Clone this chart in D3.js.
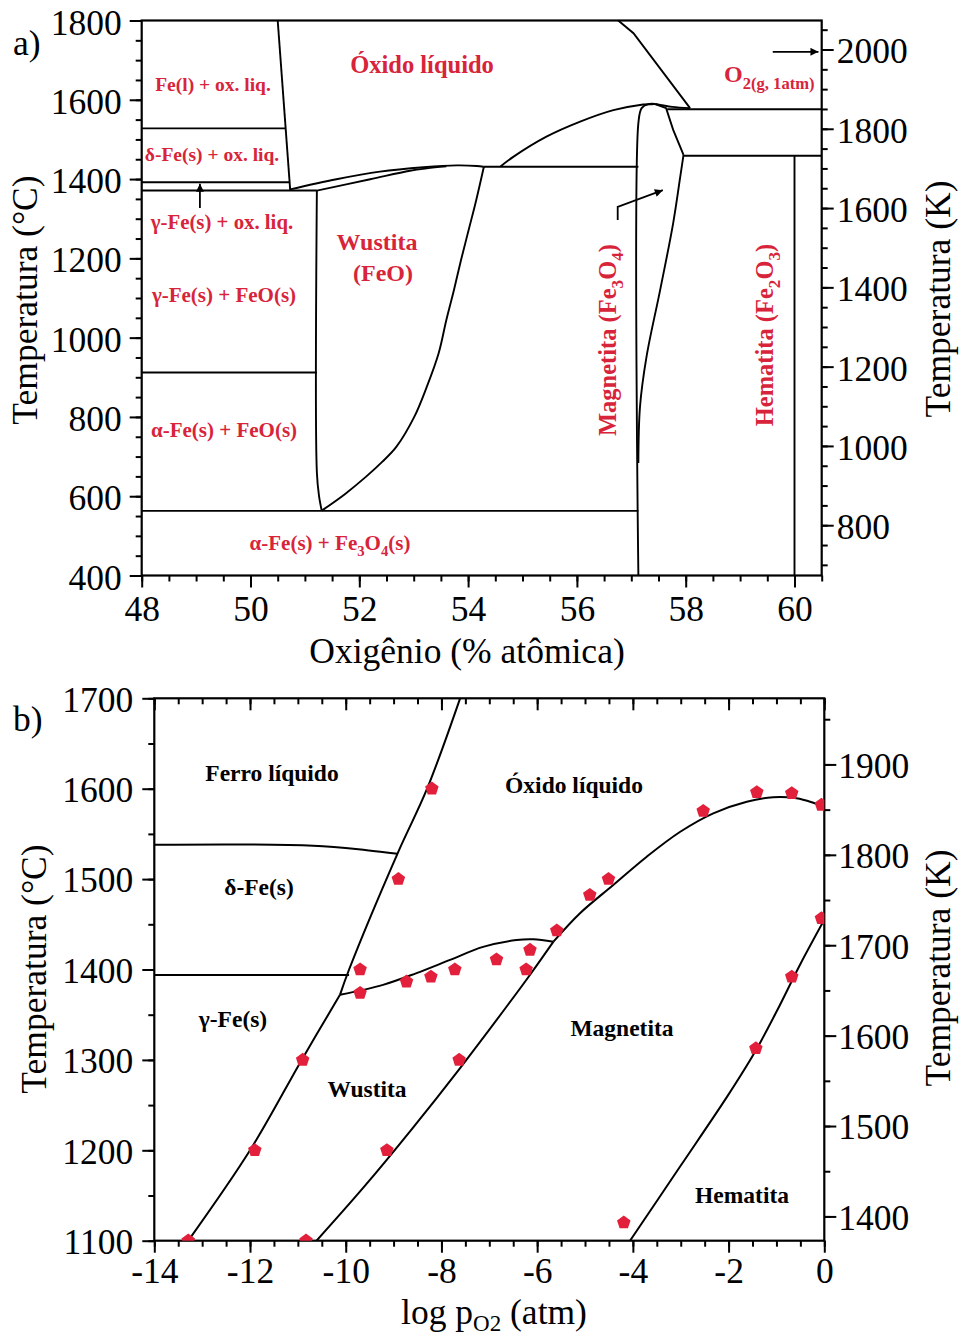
<!DOCTYPE html>
<html>
<head>
<meta charset="utf-8">
<script src="https://cdn.jsdelivr.net/npm/d3@7"></script>
<style>
  body { margin: 0; background: #fff; }
  svg { display: block; }
</style>
</head>
<body>
<svg id="chart" width="962" height="1336"></svg>
<script>
// ---------- Panel a: Fe–O phase diagram (composition vs temperature) ----------
const oxygenTicksA = [48, 50, 52, 54, 56, 58, 60];
const celsiusTicksA = [400, 600, 800, 1000, 1200, 1400, 1600, 1800];
const kelvinTicksA = [800, 1000, 1200, 1400, 1600, 1800, 2000];

// phase boundaries, [at.% O, °C]
const feLiquidus      = [[50.50, 1800], [50.73, 1372]];
const deltaFeLine     = [[48, 1528], [50.65, 1528]];
const gammaDeltaLine  = [[48, 1392], [50.72, 1392]];
const eutecticLine    = [[48, 1371], [51.22, 1371]];
const alphaGammaLine  = [[48, 912], [51.22, 912]];
const eutectoidLine   = [[48, 563], [57.13, 563]];
const peritecticLine  = [[54.28, 1431], [57.13, 1431]];
const wustiteLiquidus = [[50.73, 1374], [51.58, 1399.5], [52.38, 1418.7], [53.18, 1429.8], [53.79, 1434.5], [54.16, 1433], [54.28, 1431]];
const wustiteSolidus  = [[51.22, 1371], [52.20, 1399.5], [52.93, 1421], [53.24, 1427], [53.6, 1432]];
const wustiteFeSide   = [[51.22, 1371], [51.22, 660], [51.26, 600], [51.31, 563]];
const wustiteOSide    = [[51.31, 563.7], [51.74, 605.8], [52.12, 648.7], [52.42, 686.5], [52.68, 724.3], [53.01, 800], [53.24, 875.7], [53.46, 961.4], [53.60, 1044.6], [53.74, 1120.3], [53.87, 1196], [54.01, 1271.6], [54.15, 1347.3], [54.29, 1431]];
const magnetiteLiquidus = [[54.59, 1431], [54.83, 1456], [55.44, 1507], [56.06, 1545], [56.67, 1574], [57.16, 1587], [57.44, 1589.4]];
const magnetiteFeSide = [[57.13, 400], [57.13, 1541], [57.19, 1579], [57.31, 1589], [57.44, 1589.4]];
const magnetiteOSideTop = [[57.44, 1589.4], [57.64, 1579], [57.77, 1524], [57.96, 1461]];
const magnetiteOSide  = [[57.96, 1461], [57.90, 1406], [57.77, 1289], [57.53, 1120], [57.28, 952], [57.16, 826], [57.13, 684]];
const magnetiteCap    = [[57.44, 1589.4], [57.75, 1582], [58.08, 1579]];
const oxygenLiquidus  = [[56.76, 1800], [57.04, 1768], [58.08, 1579]];
const upperGasLine    = [[57.66, 1576], [60.5, 1576]];
const hematiteLine    = [[57.96, 1459], [60.5, 1459]];
const hematiteVertical = [[60, 400], [60, 1459]];

// arrows, [at.% O, °C]
const arrowGas   = [[59.60, 1721], [60.44, 1721]];
const arrowMag   = [[56.75, 1297], [56.75, 1330], [57.58, 1372]];
const arrowDelta = [[49.07, 1327], [49.07, 1388]];

// ---------- Panel b: stability fields vs oxygen partial pressure ----------
const logPTicksB = [-14, -12, -10, -8, -6, -4, -2, 0];
const celsiusTicksB = [1100, 1200, 1300, 1400, 1500, 1600, 1700];
const kelvinTicksB = [1400, 1500, 1600, 1700, 1800, 1900];

// boundaries, [log pO2, °C]
const ironWustiteB   = [[-13.29, 1100], [-12.00, 1200], [-10.92, 1300], [-10.12, 1372]];
const ironLiquidB    = [[-10.12, 1372], [-9.93, 1400], [-8.92, 1528], [-8.30, 1600], [-7.61, 1700]];
const deltaLiquidB   = [[-14, 1538], [-10.68, 1537], [-9.56, 1532], [-8.92, 1528]];
const gammaDeltaB    = [[-14, 1394], [-9.93, 1394]];
const wustiteLiquidB = [[-10.12, 1372], [-9.22, 1383], [-8.52, 1396], [-7.82, 1410.6], [-7.13, 1425], [-6.43, 1432.6], [-6.08, 1433.4], [-5.66, 1430.8]];
const wustiteMagB    = [[-10.61, 1100], [-9.61, 1160], [-8.61, 1224], [-7.61, 1291], [-6.61, 1361], [-6.11, 1397], [-5.66, 1430.8]];
const magnetiteLiqB  = [[-5.66, 1430.8], [-5.11, 1462], [-4.41, 1493.5], [-3.71, 1524.8], [-3.01, 1552.4], [-2.32, 1572.8], [-1.62, 1585.6], [-1.07, 1590.5], [-0.58, 1589.4], [-0.23, 1584.5], [0, 1580]];
const hematiteB      = [[-4.06, 1100], [-3.02, 1181.5], [-2.01, 1261], [-1.45, 1308.7], [-0.97, 1356.3], [-0.51, 1405], [0, 1455]];

// experimental points
const pointLogP = [-8.2, -8.9, -9.7, -9.7, -8.73, -8.22, -7.72, -6.85, -6.15, -6.23, -5.59, -4.90, -4.51, -2.53, -1.41, -0.68, -0.06, -0.06, -0.68, -1.43, -4.19, -13.29, -11.90, -10.90, -10.83, -9.14, -7.63];
const pointTemp = [1600, 1500, 1400, 1374, 1386.5, 1392, 1400, 1411, 1421.6, 1400, 1443, 1482.4, 1500, 1575.3, 1596, 1594.9, 1582, 1456.6, 1392, 1312.8, 1120, 1100, 1200, 1300, 1100, 1200, 1300];

// ---------- drawing ----------
const FONT = '"Liberation Serif","Times New Roman",Times,serif';
const RED = "#d8243a";
const DOT = "#e3203b";
const TICK_FONT = 35.5;
const svg = d3.select("#chart");

svg.append("defs").append("marker")
  .attr("id", "arrowhead").attr("viewBox", "0 0 10 10")
  .attr("refX", 10).attr("refY", 5)
  .attr("markerWidth", 11).attr("markerHeight", 8)
  .attr("markerUnits", "userSpaceOnUse")
  .attr("orient", "auto")
  .append("path").attr("d", "M0,0 L10,5 L0,10 Z").attr("fill", "#000");

function addAxis(g, axisFn, scale, major, minor, fmt, pad, transform, dir) {
  const s = dir || 1;
  const gm = g.append("g").attr("transform", transform)
    .call(axisFn(scale).tickValues(minor).tickSize(6 * s).tickFormat(""));
  gm.select(".domain").remove();
  const gM = g.append("g").attr("transform", transform)
    .call(axisFn(scale).tickValues(major).tickSize(12 * s).tickPadding(pad).tickFormat(fmt || (() => "")));
  gM.select(".domain").remove();
  [gm, gM].forEach(a => a.selectAll("line").attr("stroke", "#000").attr("stroke-width", 2));
  gM.selectAll("text").attr("font-size", TICK_FONT).attr("font-family", FONT).attr("fill", "#000");
  return gM;
}

function txt(g, x, y, str, size, color, anchor, bold) {
  return g.append("text").attr("x", x).attr("y", y)
    .attr("font-family", FONT).attr("font-size", size)
    .attr("font-weight", bold ? "bold" : "normal")
    .attr("fill", color).attr("text-anchor", anchor || "middle").text(str);
}

// label with subscript parts: parts = [[text, isSub], ...]
function subText(g, x, y, parts, size, color, anchor, bold, rotate) {
  const t = g.append("text").attr("font-family", FONT).attr("font-size", size)
    .attr("font-weight", bold ? "bold" : "normal").attr("fill", color)
    .attr("text-anchor", anchor || "middle");
  if (rotate) t.attr("transform", `translate(${x},${y}) rotate(${rotate})`);
  else t.attr("x", x).attr("y", y);
  let prevSub = false;
  parts.forEach(([s, sub]) => {
    const sp = t.append("tspan").text(s);
    if (sub) sp.attr("font-size", size * 0.7);
    if (sub && !prevSub) sp.attr("dy", size * 0.28);
    if (!sub && prevSub) sp.attr("dy", -size * 0.28);
    prevSub = sub;
  });
  return t;
}

// ===== Panel a =====
const xA = d3.scaleLinear().domain([48, 60.5]).range([141.7, 821.7]);
const yA = d3.scaleLinear().domain([400, 1800]).range([575.5, 20.5]);
const yAK = d3.scaleLinear().domain([400 + 273.15, 1800 + 273.15]).range([575.5, 20.5]);
const gA = svg.append("g");

addAxis(gA, d3.axisLeft, yA, celsiusTicksA, d3.range(400, 1801, 50), d => String(d), 8, `translate(${xA(48)},0)`);
addAxis(gA, d3.axisBottom, xA, oxygenTicksA, d3.range(48, 60.51, 0.5), d => String(d), 8, `translate(0,${yA(400)})`);
addAxis(gA, d3.axisRight, yAK, kelvinTicksA, d3.range(700, 2051, 50), d => String(d), 3, `translate(${xA(60.5)},0)`);
gA.selectAll(".tick text").filter(function () { return this.getAttribute("dy") === "0.32em"; }).attr("dy", "0.38em");

gA.append("rect").attr("x", xA(48)).attr("y", yA(1800))
  .attr("width", xA(60.5) - xA(48)).attr("height", yA(400) - yA(1800))
  .attr("fill", "none").attr("stroke", "#000").attr("stroke-width", 2.2);

const lineA = d3.line().x(d => xA(d[0])).y(d => yA(d[1]));
const smoothA = d3.line().x(d => xA(d[0])).y(d => yA(d[1])).curve(d3.curveCatmullRom.alpha(0.5));

[feLiquidus, deltaFeLine, gammaDeltaLine, eutecticLine, alphaGammaLine, eutectoidLine,
 peritecticLine, oxygenLiquidus, upperGasLine, hematiteLine, hematiteVertical, magnetiteOSideTop]
  .forEach(p => gA.append("path").attr("d", lineA(p)).attr("fill", "none").attr("stroke", "#000").attr("stroke-width", 1.9));
[wustiteLiquidus, wustiteSolidus, wustiteFeSide, wustiteOSide, magnetiteLiquidus, magnetiteFeSide, magnetiteOSide, magnetiteCap]
  .forEach(p => gA.append("path").attr("d", smoothA(p)).attr("fill", "none").attr("stroke", "#000").attr("stroke-width", 1.9));

[arrowGas, arrowMag, arrowDelta].forEach(p =>
  gA.append("path").attr("d", lineA(p)).attr("fill", "none").attr("stroke", "#000")
    .attr("stroke-width", 1.8).attr("marker-end", "url(#arrowhead)"));

// region labels
txt(gA, 422, 73, "Óxido líquido", 24.5, RED, "middle", true);
txt(gA, 213, 91, "Fe(l) + ox. liq.", 19.5, RED, "middle", true);
txt(gA, 212, 161, "δ-Fe(s) + ox. liq.", 19.5, RED, "middle", true);
txt(gA, 222, 229, "γ-Fe(s) + ox. liq.", 20.8, RED, "middle", true);
txt(gA, 224, 301.5, "γ-Fe(s) + FeO(s)", 21, RED, "middle", true);
txt(gA, 224, 437, "α-Fe(s) + FeO(s)", 21, RED, "middle", true);
subText(gA, 330, 550, [["α-Fe(s) + Fe", false], ["3", true], ["O", false], ["4", true], ["(s)", false]], 21, RED, "middle", true);
txt(gA, 377, 250, "Wustita", 24, RED, "middle", true);
txt(gA, 383, 281, "(FeO)", 24, RED, "middle", true);
subText(gA, 616, 340, [["Magnetita (Fe", false], ["3", true], ["O", false], ["4", true], [")", false]], 24.5, RED, "middle", true, -90);
subText(gA, 773, 335, [["Hematita (Fe", false], ["2", true], ["O", false], ["3", true], [")", false]], 24.5, RED, "middle", true, -90);
const o2 = gA.append("text").attr("x", 724).attr("y", 82).attr("font-family", FONT)
  .attr("font-weight", "bold").attr("fill", RED).attr("font-size", 24);
o2.append("tspan").text("O");
o2.append("tspan").attr("font-size", 16.6).attr("dy", 6.5).text("2(g, 1atm)");

// axis titles
txt(gA, 13, 55, "a)", 35.5, "#000", "start");
txt(gA, 0, 0, "Temperatura (°C)", 35.5, "#000").attr("transform", "translate(37,300) rotate(-90)");
txt(gA, 0, 0, "Temperatura (K)", 35.5, "#000").attr("transform", "translate(950,299) rotate(-90)");
txt(gA, 467, 663, "Oxigênio (% atômica)", 35.5, "#000");

// ===== Panel b =====
const xB = d3.scaleLinear().domain([-14, 0]).range([154.3, 824.3]);
const yB = d3.scaleLinear().domain([1100, 1700]).range([1240.7, 698.3]);
const yBK = d3.scaleLinear().domain([1100 + 273.15, 1700 + 273.15]).range([1240.7, 698.3]);
const gB = svg.append("g");

addAxis(gB, d3.axisLeft, yB, celsiusTicksB, d3.range(1100, 1701, 50), d => String(d), 9, `translate(${xB(-14)},0)`);
addAxis(gB, d3.axisBottom, xB, logPTicksB, d3.range(-14, 0.01, 0.5), d => String(d), 5, `translate(0,${yB(1100)})`);
addAxis(gB, d3.axisTop, xB, logPTicksB, d3.range(-14, 0.01, 0.5), null, 0, `translate(0,${yB(1700)})`, -1);
addAxis(gB, d3.axisRight, yBK, kelvinTicksB, d3.range(1400, 1951, 50), d => String(d), 2, `translate(${xB(0)},0)`);
gB.selectAll(".tick text").filter(function () { return this.getAttribute("dy") === "0.32em"; }).attr("dy", "0.36em");

gB.append("rect").attr("x", xB(-14)).attr("y", yB(1700))
  .attr("width", xB(0) - xB(-14)).attr("height", yB(1100) - yB(1700))
  .attr("fill", "none").attr("stroke", "#000").attr("stroke-width", 2.2);

svg.select("defs").append("clipPath").attr("id", "clipB").append("rect")
  .attr("x", xB(-14)).attr("y", yB(1700)).attr("width", xB(0) - xB(-14)).attr("height", yB(1100) - yB(1700));

const plotB = gB.append("g").attr("clip-path", "url(#clipB)");
const smoothB = d3.line().x(d => xB(d[0])).y(d => yB(d[1])).curve(d3.curveCatmullRom.alpha(0.5));
const lineB = d3.line().x(d => xB(d[0])).y(d => yB(d[1]));
[ironWustiteB, ironLiquidB, deltaLiquidB, wustiteLiquidB, wustiteMagB, magnetiteLiqB, hematiteB]
  .forEach(p => plotB.append("path").attr("d", smoothB(p)).attr("fill", "none").attr("stroke", "#000").attr("stroke-width", 2));
plotB.append("path").attr("d", lineB(gammaDeltaB)).attr("fill", "none").attr("stroke", "#000").attr("stroke-width", 2);

// pentagon symbol for the measured points
const symbolPentagon = {
  draw(context, size) {
    const r = Math.sqrt(size / 2.3776);
    for (let i = 0; i < 5; i++) {
      const a = -Math.PI / 2 + i * 2 * Math.PI / 5;
      const px = r * Math.cos(a), py = r * Math.sin(a);
      if (i === 0) context.moveTo(px, py); else context.lineTo(px, py);
    }
    context.closePath();
  }
};
const pent = d3.symbol().type(symbolPentagon).size(120);
plotB.selectAll("path.pt").data(d3.range(pointLogP.length)).join("path")
  .attr("class", "pt")
  .attr("d", pent)
  .attr("transform", i => `translate(${xB(pointLogP[i])},${yB(pointTemp[i])})`)
  .attr("fill", DOT);

txt(gB, 272, 781, "Ferro líquido", 23.5, "#000", "middle", true);
txt(gB, 574, 793, "Óxido líquido", 23.5, "#000", "middle", true);
txt(gB, 259, 895, "δ-Fe(s)", 23.5, "#000", "middle", true);
txt(gB, 233, 1027, "γ-Fe(s)", 23.5, "#000", "middle", true);
txt(gB, 367, 1097, "Wustita", 23.5, "#000", "middle", true);
txt(gB, 622, 1036, "Magnetita", 23.5, "#000", "middle", true);
txt(gB, 742, 1203, "Hematita", 23.5, "#000", "middle", true);

txt(gB, 13, 731, "b)", 35.5, "#000", "start");
txt(gB, 0, 0, "Temperatura (°C)", 35.5, "#000").attr("transform", "translate(46,969) rotate(-90)");
txt(gB, 0, 0, "Temperatura (K)", 35.5, "#000").attr("transform", "translate(950,968) rotate(-90)");
const lp = gB.append("text").attr("x", 494).attr("y", 1324).attr("text-anchor", "middle")
  .attr("font-family", FONT).attr("font-size", 35.5).attr("fill", "#000");
lp.append("tspan").text("log p");
lp.append("tspan").attr("font-size", 23).attr("dy", 7).text("O2");
lp.append("tspan").attr("dy", -7).text(" (atm)");
</script>
</body>
</html>
